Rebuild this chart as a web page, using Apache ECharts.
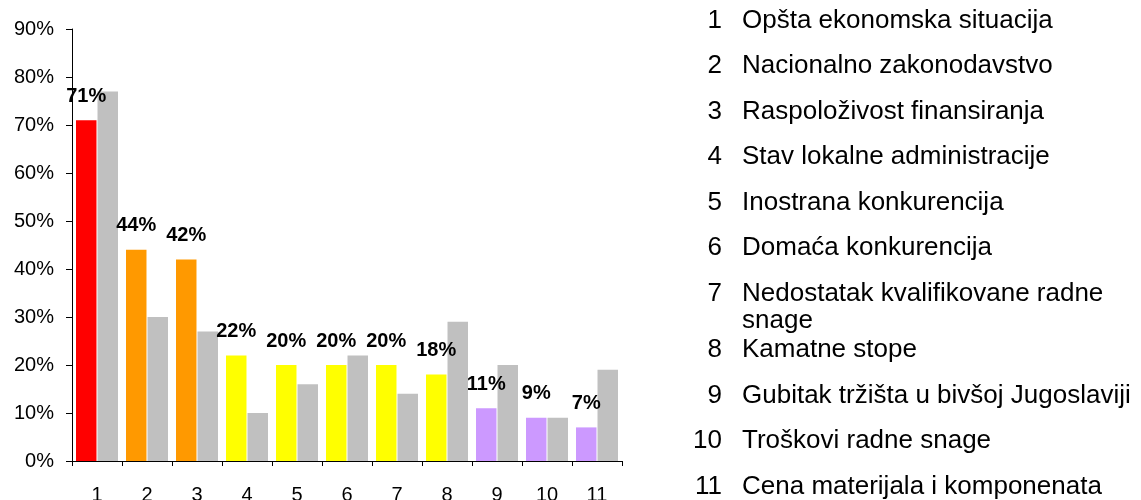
<!DOCTYPE html>
<html>
<head>
<meta charset="utf-8">
<script src="https://cdn.jsdelivr.net/npm/echarts@6/dist/echarts.min.js"></script>
<style>
  html, body { margin: 0; padding: 0; background: #fff; }
  #chart { width: 1141px; height: 500px; }
</style>
</head>
<body>
<div id="chart"></div>
<script>
// data
const categories = ["1", "2", "3", "4", "5", "6", "7", "8", "9", "10", "11"];
const mainValues = [71, 44, 42, 22, 20, 20, 20, 18, 11, 9, 7];
const greyValues = [77, 30, 27, 10, 16, 22, 14, 29, 20, 9, 19];
const descriptions = [
  "Opšta ekonomska situacija",
  "Nacionalno zakonodavstvo",
  "Raspoloživost finansiranja",
  "Stav lokalne administracije",
  "Inostrana konkurencija",
  "Domaća konkurencija",
  "Nedostatak kvalifikovane radne\nsnage",
  "Kamatne stope",
  "Gubitak tržišta u bivšoj Jugoslaviji",
  "Troškovi radne snage",
  "Cena materijala i komponenata"
];
const yTicks = [0, 10, 20, 30, 40, 50, 60, 70, 80, 90];

// styles
const barColors = ["#ff0000", "#ff9900", "#ff9900", "#ffff00", "#ffff00", "#ffff00",
  "#ffff00", "#ffff00", "#cc99ff", "#cc99ff", "#cc99ff"];
const fontFamily = "Liberation Sans, Arial, sans-serif";

let chart = echarts.init(document.getElementById("chart"));

// legend-like list on the right
let listItems = [];
let extra = 0;
descriptions.forEach(function(desc, i) {
  let y = 20.5 + i * 45.5 + extra;
  let lines = desc.split("\n");
  listItems.push({
    type: "text",
    x: 722,
    y: y,
    style: {
      text: categories[i],
      fill: "#000",
      font: "26px " + fontFamily,
      textAlign: "right",
      textVerticalAlign: "middle"
    }
  });
  lines.forEach(function(line, j) {
    listItems.push({
      type: "text",
      x: 742,
      y: y + j * 27,
      style: {
        text: line,
        fill: "#000",
        font: "26px " + fontFamily,
        textAlign: "left",
        textVerticalAlign: "middle"
      }
    });
  });
  if (lines.length > 1) {
    extra += 11;
  }
});

let option = {
  animation: false,
  backgroundColor: "#fff",
  textStyle: { fontFamily: fontFamily },
  grid: {
    left: 72,
    right: 519,
    top: 29,
    bottom: 39,
    containLabel: false,
    outerBoundsMode: "none"
  },
  xAxis: {
    type: "category",
    data: categories,
    axisLine: { lineStyle: { color: "#000", width: 1 } },
    axisTick: { show: true, inside: false, length: 5, interval: 0, lineStyle: { color: "#000" } },
    axisLabel: { color: "#000", fontSize: 20, margin: 24, interval: 0, fontFamily: fontFamily },
    splitLine: { show: false }
  },
  yAxis: {
    type: "value",
    min: yTicks[0],
    max: yTicks[yTicks.length - 1],
    interval: 10,
    axisLine: { show: true, lineStyle: { color: "#000", width: 1 } },
    axisTick: { show: true, inside: false, length: 6, lineStyle: { color: "#000" } },
    axisLabel: { color: "#000", fontSize: 20, margin: 18, formatter: "{value}%", fontFamily: fontFamily },
    splitLine: { show: false }
  },
  series: [
    {
      type: "bar",
      data: mainValues.map(function(v, i) {
        return { value: v, itemStyle: { color: barColors[i] } };
      }),
      barCategoryGap: "16%",
      barGap: "5%",
      label: {
        show: true,
        position: "top",
        distance: 14,
        color: "#000",
        fontSize: 20,
        fontWeight: "bold",
        fontFamily: fontFamily,
        formatter: "{c}%"
      },
      z: 3
    },
    {
      type: "bar",
      data: greyValues,
      barCategoryGap: "16%",
      barGap: "5%",
      itemStyle: { color: "#c0c0c0" },
      z: 2
    }
  ],
  graphic: listItems
};
chart.setOption(option, true);
</script>
</body>
</html>
